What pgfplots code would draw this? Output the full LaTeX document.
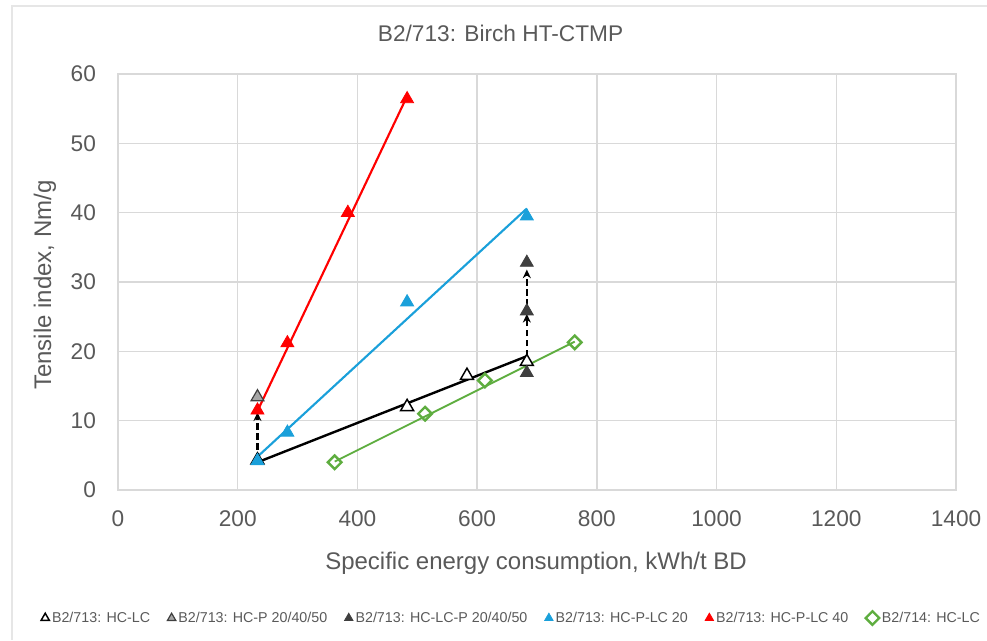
\documentclass[border=0pt]{standalone}
\usepackage{pgfplots}
\pgfplotsset{compat=1.18}
\usepackage{fontspec}
\setmainfont{Liberation Sans}
\usetikzlibrary{arrows.meta}
\definecolor{txt}{HTML}{595959}
\definecolor{gridc}{HTML}{D9D9D9}
\definecolor{frame}{HTML}{E6E6E6}
\definecolor{sblue}{HTML}{1AA0DA}
\definecolor{sred}{HTML}{FF0000}
\definecolor{sgreen}{HTML}{5EAD3F}
\definecolor{sdark}{HTML}{3F3F3F}
\definecolor{sgrey}{HTML}{A6A6A6}
\begin{document}
\begin{tikzpicture}
\path[use as bounding box] (0,0) rectangle (740.25pt,-480pt);
\draw[color=frame, line width=1.5pt] (9pt,-480pt) -- (9pt,-4.5pt) -- (740.25pt,-4.5pt);
\begin{axis}[
  at={(88.5pt,-367.5pt)}, anchor=south west,
  scale only axis, width=628.5pt, height=312pt,
  xmin=0, xmax=1400, ymin=0, ymax=60,
  xtick={0,200,...,1400}, ytick={0,10,...,60},
  grid=major, major grid style={gridc, line width=1pt},
  axis line style={gridc, line width=1pt},
  tick style={draw=none},
  ticklabel style={font=\fontsize{17}{20}\selectfont, text=txt},
  /pgf/number format/assume math mode=true,
  /pgf/number format/1000 sep={},
  yticklabel style={xshift=-13pt},
  xticklabel style={yshift=-12pt},
  clip=false,
  legend columns=6,
  legend style={at={(0.470,-0.3077)}, anchor=center, draw=none, fill=none,
    font=\fontsize{10.7}{12}\selectfont, text=txt,
    /tikz/every odd column/.append style={column sep=0pt},
    /tikz/every even column/.append style={column sep=11pt}},
  legend image code/.code={\draw[mark repeat=2,mark phase=2,#1,mark size=3.6pt] plot coordinates {(0pt,0pt)(5pt,0pt)(10pt,0pt)};},
]
% trend lines
\addplot[forget plot, black, line width=1.8pt] coordinates {(233,4.0) (683,19.3)};
\addplot[forget plot, sblue, line width=1.6pt] coordinates {(233,4.8) (683,40.6)};
\addplot[forget plot, sred, line width=1.6pt] coordinates {(233,11.4) (483,56.8)};
\addplot[forget plot, sgreen, line width=1.4pt] coordinates {(362,4.1) (763,21.4)};
% series
\addplot[only marks, mark=triangle*, mark size=5.6pt, mark options={draw=black, fill=white, line width=1.1pt}]
  coordinates {(233,4.3) (483,12.0) (583,16.5) (683,18.5)};
\addlegendentry{B2/713: HC-LC}
\addplot[only marks, mark=triangle*, mark size=5.6pt, mark options={draw=sdark, fill=sgrey, line width=0.9pt}]
  coordinates {(233,13.4)};
\addlegendentry{B2/713: HC-P 20/40/50}
\addplot[only marks, mark=triangle*, mark size=5.6pt, mark options={draw=sdark, fill=sdark, line width=0.6pt}]
  coordinates {(683,16.9) (683,25.8) (683,32.8)};
\addlegendentry{B2/713: HC-LC-P 20/40/50}
\addplot[only marks, mark=triangle*, mark size=5.6pt, mark options={draw=sblue, fill=sblue, line width=0.6pt}]
  coordinates {(233,4.2) (283,8.3) (483,27.1) (683,39.5)};
\addlegendentry{B2/713: HC-P-LC 20}
\addplot[only marks, mark=triangle*, mark size=5.6pt, mark options={draw=sred, fill=sred, line width=0.6pt}]
  coordinates {(233,11.5) (283,21.2) (384,40.0) (483,56.4)};
\addlegendentry{B2/713: HC-P-LC 40}
\addplot[only marks, mark=square, mark size=3.6pt, mark options={draw=sgreen, fill=white, line width=1.8pt, rotate=45}]
  coordinates {(362,4.0) (513,11.0) (613,15.8) (763,21.3)};
\addlegendentry{B2/714: HC-LC}
% dashed arrows
\addplot[forget plot, black, dash pattern=on 5pt off 2.5pt, line width=1.7pt, -{Stealth[length=6.5pt,width=6pt]}]
  coordinates {(233,4.4) (233,11.2)};
\addplot[forget plot, black, dash pattern=on 5pt off 2.5pt, line width=1.7pt, -{Stealth[length=6.5pt,width=6pt]}]
  coordinates {(683,19.3) (683,25.4)};
\addplot[forget plot, black, dash pattern=on 5pt off 2.5pt, line width=1.7pt, -{Stealth[length=6.5pt,width=6pt]}]
  coordinates {(683,26.6) (683,31.8)};
\end{axis}
\node[text=txt, font=\fontsize{17}{20}\selectfont] at (375.4pt,-24.75pt) {B2/713: Birch HT-CTMP};
\node[text=txt, font=\fontsize{18}{21}\selectfont] at (402pt,-422.25pt) {Specific energy consumption, kWh/t BD};
\node[text=txt, font=\fontsize{18}{21}\selectfont, rotate=90] at (33.75pt,-213.75pt) {Tensile index, Nm/g};
\end{tikzpicture}
\end{document}
